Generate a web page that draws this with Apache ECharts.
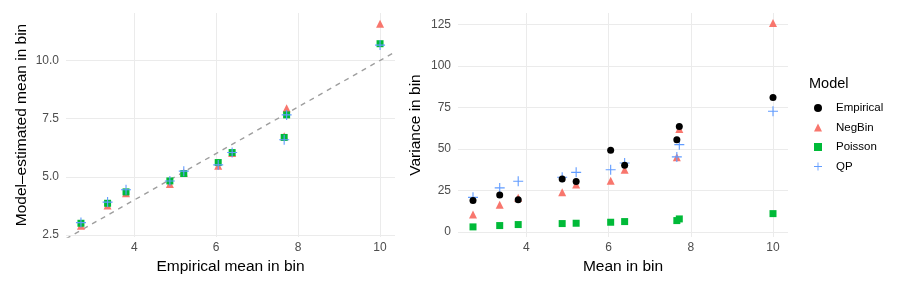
<!DOCTYPE html>
<html>
<head>
<meta charset="utf-8">
<script src="https://cdn.jsdelivr.net/npm/echarts@6/dist/echarts.min.js"></script>
<style>
html,body{margin:0;padding:0;background:#fff;}
#chart{width:911px;height:290px;}
</style>
</head>
<body>
<div id="chart"></div>
<script>
// Empirical mean in each bin (x for both panels)
var empiricalMean = [2.70, 3.35, 3.80, 4.87, 5.21, 6.05, 6.39, 7.66, 7.72, 10.0];
// Left panel: model-estimated mean in bin
var meanNegBin  = [2.89, 3.76, 4.29, 4.69, 5.17, 5.47, 6.02, 6.74, 7.95, 11.58];
var meanPoisson = [3.00, 3.86, 4.35, 4.82, 5.14, 5.61, 6.04, 6.69, 7.66, 10.72];
var meanQP      = [3.03, 3.91, 4.44, 4.82, 5.24, 5.51, 6.04, 6.59, 7.66, 10.66];
// Right panel: variance in bin
var varEmpirical = [18.9, 22.3, 19.3, 31.9, 30.3, 49.2, 40.1, 55.6, 63.6, 81.1];
var varNegBin    = [10.4, 16.4, 20.5, 23.9, 28.5, 30.9, 37.5, 45.0, 62.0, 125.9];
var varPoisson   = [3.0, 3.8, 4.4, 5.0, 5.2, 5.8, 6.2, 6.8, 7.8, 11.0];
var varQP        = [20.8, 26.5, 30.5, 32.9, 35.9, 37.5, 41.5, 45.2, 52.6, 72.7];
// Tick labels / axis ranges
var xTicks = [4, 6, 8, 10];
var xRange = [2.335, 10.365];
var leftYTicks = [2.5, 5.0, 7.5, 10.0];
var leftYRange = [2.41, 12.04];
var rightYTicks = [0, 25, 50, 75, 100, 125];
var rightYRange = [-3.1, 132];
var models = ['Empirical', 'NegBin', 'Poisson', 'QP'];

var colors = {Empirical: '#000000', NegBin: '#F8766D', Poisson: '#00BA38', QP: '#619CFF'};
var symbols = {
  Empirical: 'circle',
  NegBin: 'triangle',
  Poisson: 'rect',
  QP: 'path://M4.45,0h1.1v4.45h4.45v1.1h-4.45v4.45h-1.1v-4.45h-4.45v-1.1h4.45z'
};
var sizes = {Empirical: 7, NegBin: 8, Poisson: 7, QP: 10};

function pairs(xs, ys){ return xs.map(function(x,i){ return [x, ys[i]]; }); }

var FONT = 'Liberation Sans, Arial, sans-serif';
var gridLine = {show: true, lineStyle: {color: '#EBEBEB', width: 1}};

function xAxis(gi, name){
  return {
    type: 'value', gridIndex: gi, min: xRange[0], max: xRange[1],
    name: name, nameLocation: 'middle', nameGap: 22,
    nameTextStyle: {color: '#000', fontSize: 15.5, fontFamily: FONT},
    axisLine: {show: false}, axisTick: {show: false, customValues: xTicks},
    axisLabel: {customValues: xTicks, color: '#4D4D4D', fontSize: 12, fontFamily: FONT, margin: 5,
      formatter: function(v){ return String(v); }},
    splitLine: gridLine
  };
}
function yAxis(gi, name, range, ticks, fmt, gap){
  return {
    type: 'value', gridIndex: gi, min: range[0], max: range[1],
    name: name, nameLocation: 'middle', nameGap: gap, nameRotate: 90,
    nameTextStyle: {color: '#000', fontSize: 15.5, fontFamily: FONT},
    axisLine: {show: false}, axisTick: {show: false, customValues: ticks},
    axisLabel: {customValues: ticks, color: '#4D4D4D', fontSize: 12, fontFamily: FONT, margin: 7,
      formatter: fmt},
    splitLine: gridLine
  };
}

function scatter(name, gi, data, z){
  return {
    name: name, type: 'scatter', xAxisIndex: gi, yAxisIndex: gi,
    data: data, symbol: symbols[name], symbolSize: sizes[name],
    itemStyle: {color: colors[name], opacity: 1}, z: z,
    emphasis: {disabled: true}, silent: true
  };
}

var chart = echarts.init(document.getElementById('chart'), null, {renderer: 'canvas'});
chart.setOption({
  animation: false,
  backgroundColor: '#fff',
  textStyle: {fontFamily: FONT},
  grid: [
    {left: 66, top: 13, width: 329, height: 224},
    {left: 458, top: 13, width: 330, height: 224}
  ],
  xAxis: [xAxis(0, 'Empirical mean in bin'), xAxis(1, 'Mean in bin')],
  yAxis: [
    yAxis(0, 'Model–estimated mean in bin', leftYRange, leftYTicks, function(v){ return v.toFixed(1); }, 36),
    yAxis(1, 'Variance in bin', rightYRange, rightYTicks, function(v){ return String(v); }, 34)
  ],
  title: {
    text: 'Model', left: 809, top: 76, padding: 0,
    textStyle: {fontSize: 14.5, fontWeight: 'normal', color: '#000', fontFamily: FONT}
  },
  legend: {
    data: models, orient: 'vertical', left: 814, top: 102, padding: 0,
    itemWidth: 8, itemHeight: 8, itemGap: 7.5,
    textStyle: {fontSize: 11.5, color: '#000', fontFamily: FONT, padding: [0,0,0,9]},
    selectedMode: false
  },
  series: [
    {
      type: 'line', xAxisIndex: 0, yAxisIndex: 0, silent: true,
      data: [[xRange[0], xRange[0]], [xRange[1], xRange[1]]],
      symbol: 'none', clip: true, z: 1,
      lineStyle: {color: '#9E9E9E', width: 1.4, type: [5, 5]}
    },
    scatter('NegBin', 0, pairs(empiricalMean, meanNegBin), 2),
    scatter('Poisson', 0, pairs(empiricalMean, meanPoisson), 3),
    scatter('QP', 0, pairs(empiricalMean, meanQP), 4),
    scatter('NegBin', 1, pairs(empiricalMean, varNegBin), 2),
    scatter('Poisson', 1, pairs(empiricalMean, varPoisson), 3),
    scatter('QP', 1, pairs(empiricalMean, varQP), 4),
    scatter('Empirical', 1, pairs(empiricalMean, varEmpirical), 5)
  ]
});
</script>
</body>
</html>
